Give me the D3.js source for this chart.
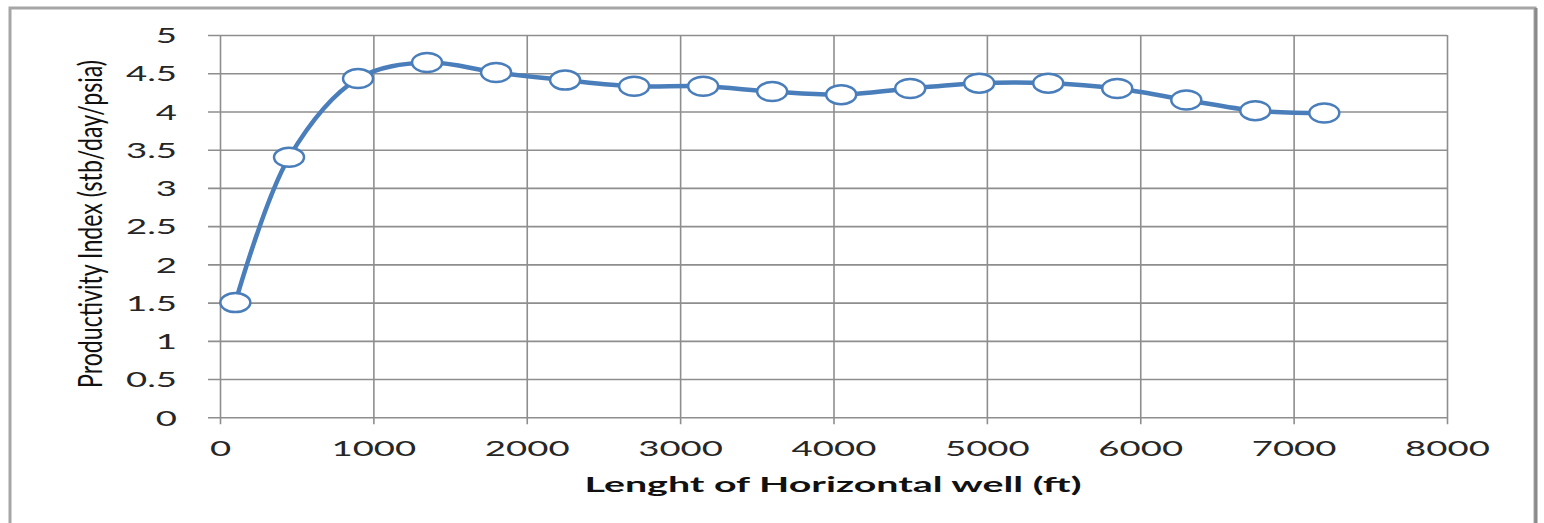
<!DOCTYPE html>
<html>
<head>
<meta charset="utf-8">
<script src="https://cdn.jsdelivr.net/npm/d3@7"></script>
<style>
  html, body { margin: 0; padding: 0; background: #fff; }
  svg { display: block; }
  text { font-family: Lato, "Open Sans", sans-serif; }
</style>
</head>
<body>
<svg id="chart" width="1544" height="523"></svg>
<script>
// ---- data ----
const lengths = [100, 450, 900, 1350, 1800, 2250, 2700, 3150, 3600, 4050, 4500, 4950, 5400, 5850, 6300, 6750, 7200];
const productivity = [1.5, 3.40, 4.43, 4.64, 4.51, 4.41, 4.33, 4.33, 4.26, 4.22, 4.30, 4.37, 4.37, 4.30, 4.15, 4.01, 3.98];
const xTicks = [0, 1000, 2000, 3000, 4000, 5000, 6000, 7000, 8000];
const yTicks = [0, 0.5, 1, 1.5, 2, 2.5, 3, 3.5, 4, 4.5, 5];
const xTitle = "Lenght of Horizontal well (ft)";
const yTitle = "Productivity Index (stb/day/psia)";

(function () {
// ---- layout ----
const svg = d3.select("#chart");
const pL = 220, pR = 1447, pT = 35, pB = 417.3;
const sx = 1.7;           // horizontal stretch of the reference image text
const blue = "#4a7ebb";
const grid = "#8e8e8e";

const x = d3.scaleLinear().domain([0, 8000]).range([pL, pR]);
const y = d3.scaleLinear().domain([0, 5]).range([pB, pT]);

// outer frame
svg.append("rect")
  .attr("x", 10).attr("y", 8).attr("width", 1525).attr("height", 530)
  .attr("fill", "none").attr("stroke", "#a6a6a6").attr("stroke-width", 3);
svg.append("line")
  .attr("x1", 1536).attr("x2", 1536).attr("y1", 8).attr("y2", 523)
  .attr("stroke", "#8a8a8a").attr("stroke-width", 3);

// y axis with horizontal gridlines
const yOut = 12;
const yAxis = svg.append("g")
  .attr("transform", `translate(${pL - yOut},0)`)
  .call(d3.axisLeft(y).tickValues(yTicks).tickSize(-(pR - pL + yOut)).tickSizeOuter(0)
        .tickFormat(d => String(d)));
yAxis.select(".domain").remove();
yAxis.selectAll(".tick line").attr("stroke", grid).attr("stroke-width", 1.6);
yAxis.selectAll(".tick text")
  .attr("x", null).attr("dy", "0.36em")
  .attr("transform", `translate(${177 - (pL - yOut)},0) scale(${sx},1)`)
  .attr("text-anchor", "end")
  .style("font-size", "21.5px").attr("fill", "#262626");

// x axis with vertical gridlines
const xOut = 7;
const xAxis = svg.append("g")
  .attr("transform", `translate(0,${pB + xOut})`)
  .call(d3.axisBottom(x).tickValues(xTicks).tickSize(-(pB - pT + xOut)).tickSizeOuter(0)
        .tickFormat(d => String(d)));
xAxis.select(".domain").remove();
xAxis.selectAll(".tick line").attr("stroke", grid).attr("stroke-width", 1.6);
xAxis.selectAll(".tick text")
  .attr("y", null).attr("dy", null)
  .attr("transform", `translate(0,${456 - (pB + xOut)}) scale(${sx},1)`)
  .attr("text-anchor", "middle")
  .style("font-size", "21.5px").attr("fill", "#262626");

// axis titles
svg.append("text")
  .attr("x", 833).attr("y", 492)
  .attr("text-anchor", "middle")
  .attr("textLength", 497).attr("lengthAdjust", "spacingAndGlyphs")
  .style("font-size", "21px").style("font-weight", "bold").attr("fill", "#111")
  .text(xTitle);

svg.append("text")
  .attr("transform", "translate(102,224) scale(1.5,1) rotate(-90)")
  .attr("text-anchor", "middle")
  .attr("textLength", 328).attr("lengthAdjust", "spacingAndGlyphs")
  .style("font-size", "22px").attr("fill", "#111")
  .text(yTitle);

// data
const pts = lengths.map((L, i) => [L, productivity[i]]);
const line = d3.line()
  .x(d => x(d[0])).y(d => y(d[1]))
  .curve(d3.curveCatmullRom.alpha(0.5));

svg.append("path")
  .datum(pts)
  .attr("d", line)
  .attr("fill", "none")
  .attr("stroke", blue)
  .attr("stroke-width", 4.5)
  .attr("stroke-linejoin", "round");

svg.append("g").selectAll("ellipse")
  .data(pts)
  .join("ellipse")
  .attr("cx", d => x(d[0]))
  .attr("cy", d => y(d[1]))
  .attr("rx", 15).attr("ry", 9.5)
  .attr("fill", "#fff")
  .attr("stroke", blue)
  .attr("stroke-width", 2.5);
})();
</script>
</body>
</html>
